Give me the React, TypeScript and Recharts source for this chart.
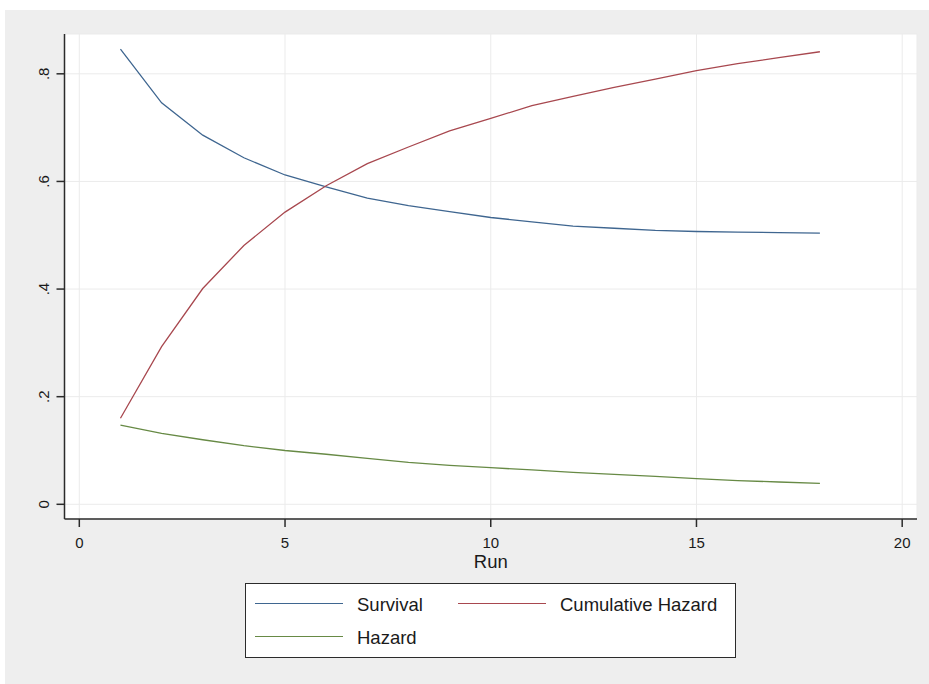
import { LineChart, Line, XAxis, YAxis, CartesianGrid, Legend } from "recharts";

const runs = [1, 2, 3, 4, 5, 6, 7, 8, 9, 10, 11, 12, 13, 14, 15, 16, 17, 18];
const survival = [0.846, 0.746, 0.686, 0.644, 0.612, 0.59, 0.569, 0.555, 0.544, 0.533, 0.525, 0.517, 0.513, 0.509, 0.507, 0.506, 0.505, 0.504];
const cumHazard = [0.16, 0.293, 0.401, 0.481, 0.543, 0.592, 0.633, 0.664, 0.694, 0.717, 0.741, 0.758, 0.775, 0.79, 0.806, 0.819, 0.83, 0.841];
const hazard = [0.147, 0.132, 0.12, 0.109, 0.1, 0.093, 0.0855, 0.078, 0.0725, 0.068, 0.064, 0.0595, 0.0558, 0.052, 0.0476, 0.044, 0.0415, 0.039];
const seriesNames = ["Survival", "Cumulative Hazard", "Hazard"];
const xTicks = [0, 5, 10, 15, 20];
const yTicks = [0, 0.2, 0.4, 0.6, 0.8];
const yTickLabels = ["0", ".2", ".4", ".6", ".8"];

const data = runs.map((r, i) => ({
  run: r,
  survival: survival[i],
  cumHazard: cumHazard[i],
  hazard: hazard[i],
}));

const FONT = "'Liberation Sans', Arial, sans-serif";
const AXIS = "#2b2b2b";

const YTick = (props: any) => {
  const { x, y, payload } = props;
  const idx = yTicks.indexOf(payload.value);
  return (
    <text
      x={x - 13}
      y={y}
      transform={`rotate(-90, ${x - 13}, ${y})`}
      textAnchor="middle"
      dominantBaseline="central"
      fontSize={15}
      fontFamily={FONT}
      fill="#1a1a1a"
    >
      {idx >= 0 ? yTickLabels[idx] : payload.value}
    </text>
  );
};

// legend slots: two columns, Stata style
const slots = [
  { left: 10, top: 21 },
  { left: 213, top: 21 },
  { left: 10, top: 54.5 },
];

const renderLegend = (props: any) => {
  const items = props.payload || [];
  return (
    <div
      style={{
        position: "relative",
        width: 491,
        height: 75,
        boxSizing: "border-box",
        border: `1.5px solid ${AXIS}`,
        background: "#fff",
        fontFamily: FONT,
      }}
    >
      {seriesNames.map((name, i) => {
        const it = items.find((p: any) => p.value === name);
        if (!it) return null;
        return (
          <div key={name} style={{ position: "absolute", left: slots[i].left - 1.5, top: slots[i].top - 1.5 }}>
            <div
              style={{
                position: "absolute",
                left: 0,
                top: -0.7,
                width: 88,
                height: 0,
                borderTop: `1.4px solid ${it.color}`,
              }}
            />
            <div
              style={{
                position: "absolute",
                left: 102.5,
                top: -10,
                fontSize: 18.5,
                lineHeight: "22px",
                whiteSpace: "nowrap",
                color: "#1a1a1a",
              }}
            >
              {name}
            </div>
          </div>
        );
      })}
    </div>
  );
};

export default function App() {
  return (
    <div style={{ position: "absolute", left: 0, top: 0, width: 929, height: 684, background: "#fff" }}>
      <div style={{ position: "absolute", left: 5, top: 10, width: 924, height: 674, background: "#eeeeee" }}>
        <LineChart
          width={924}
          height={674}
          data={data}
          margin={{ top: 24, right: 12, left: 9.5, bottom: 115 }}
        >
          <CartesianGrid fill="#ffffff" stroke="#ebebeb" strokeWidth={1} />
          <XAxis
            dataKey="run"
            type="number"
            domain={[-0.36, 20.36]}
            ticks={xTicks}
            allowDataOverflow
            height={50}
            tickSize={8}
            tickMargin={10}
            stroke={AXIS}
            strokeWidth={1.5}
            tick={{ fontSize: 15, fill: "#1a1a1a", fontFamily: FONT }}
            label={{ value: "Run", position: "insideBottom", offset: 1.5, fontSize: 18.5, fill: "#1a1a1a", fontFamily: FONT }}
          />
          <YAxis
            type="number"
            domain={[-0.0273, 0.874]}
            ticks={yTicks}
            allowDataOverflow
            width={50}
            tickSize={8}
            tickMargin={0}
            stroke={AXIS}
            strokeWidth={1.5}
            tick={<YTick />}
          />
          <Line
            type="linear"
            dataKey="survival"
            name="Survival"
            stroke="#3f6690"
            strokeWidth={1.3}
            dot={false}
            isAnimationActive={false}
          />
          <Line
            type="linear"
            dataKey="cumHazard"
            name="Cumulative Hazard"
            stroke="#a8484f"
            strokeWidth={1.3}
            dot={false}
            isAnimationActive={false}
          />
          <Line
            type="linear"
            dataKey="hazard"
            name="Hazard"
            stroke="#678a45"
            strokeWidth={1.3}
            dot={false}
            isAnimationActive={false}
          />
          <Legend
            layout="horizontal"
            verticalAlign="middle"
            align="center"
            content={renderLegend}
            wrapperStyle={{ left: 240, top: 573, width: 491, height: 75 }}
          />
        </LineChart>
      </div>
    </div>
  );
}
